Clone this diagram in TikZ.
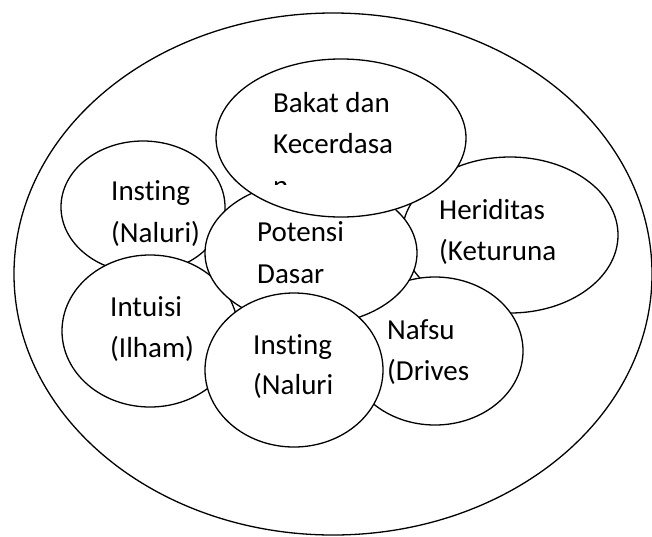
\documentclass[tikz,border=0pt]{standalone}
\usepackage{fontspec}
\setmainfont{Carlito}[Ligatures=NoCommon]
\usepackage{tikz}

\tikzset{
  txt/.style={anchor=base west, inner sep=0pt, font=\fontsize{29}{35}\selectfont},
  bubble/.style={draw=black, fill=white, line width=1.3pt}
}

\begin{document}
\begin{tikzpicture}[x=1pt,y=-1pt]
   \useasboundingbox (0,0) rectangle (652,536);
   % outer ellipse
   \draw[line width=1.3pt] (333,274) ellipse (319pt and 261pt);

   % ellipses, back to front
   \filldraw[bubble] (143,207) ellipse (82pt and 66pt);
   \filldraw[bubble] (150,331) ellipse (88pt and 76pt);
   \filldraw[bubble] (510,235) ellipse (108pt and 78pt);
   \filldraw[bubble] (435,351) ellipse (88pt and 74pt);
   \filldraw[bubble] (311,253) ellipse (106pt and 72pt);
   \filldraw[bubble] (294,370) ellipse (89pt and 77pt);
   \filldraw[bubble] (341,138) ellipse (125pt and 79pt);

   \node[txt] (bakatA) at (273,112) {Bakat dan};
   \node[txt] (bakatB) at (273,153) {Kecerdasa};
   \begin{scope}
     \clip (268,170) rectangle (300,184);
     \node[txt] (bakatC) at (273,195) {n};
   \end{scope}

   \node[txt] (instingA) at (111,200) {Insting};
   \node[txt] (instingB) at (111,242) {(Naluri)};

   \node[txt] (intuisiA) at (110,316) {Intuisi};
   \node[txt] (intuisiB) at (110,357) {(Ilham)};

   \node[txt] (potensiA) at (257,241) {Potensi};
   \node[txt] (potensiB) at (257,283) {Dasar};

   \node[txt] (naluriA) at (253,354) {Insting};
   \node[txt] (naluriB) at (253,394) {(Naluri};

   \node[txt] (heriA) at (439,219) {Heriditas};
   \node[txt] (heriB) at (439,260) {(Keturuna};

   \node[txt] (nafsuA) at (387,339) {Nafsu};
   \node[txt] (nafsuB) at (387,380) {(Drives};
\end{tikzpicture}
\end{document}
